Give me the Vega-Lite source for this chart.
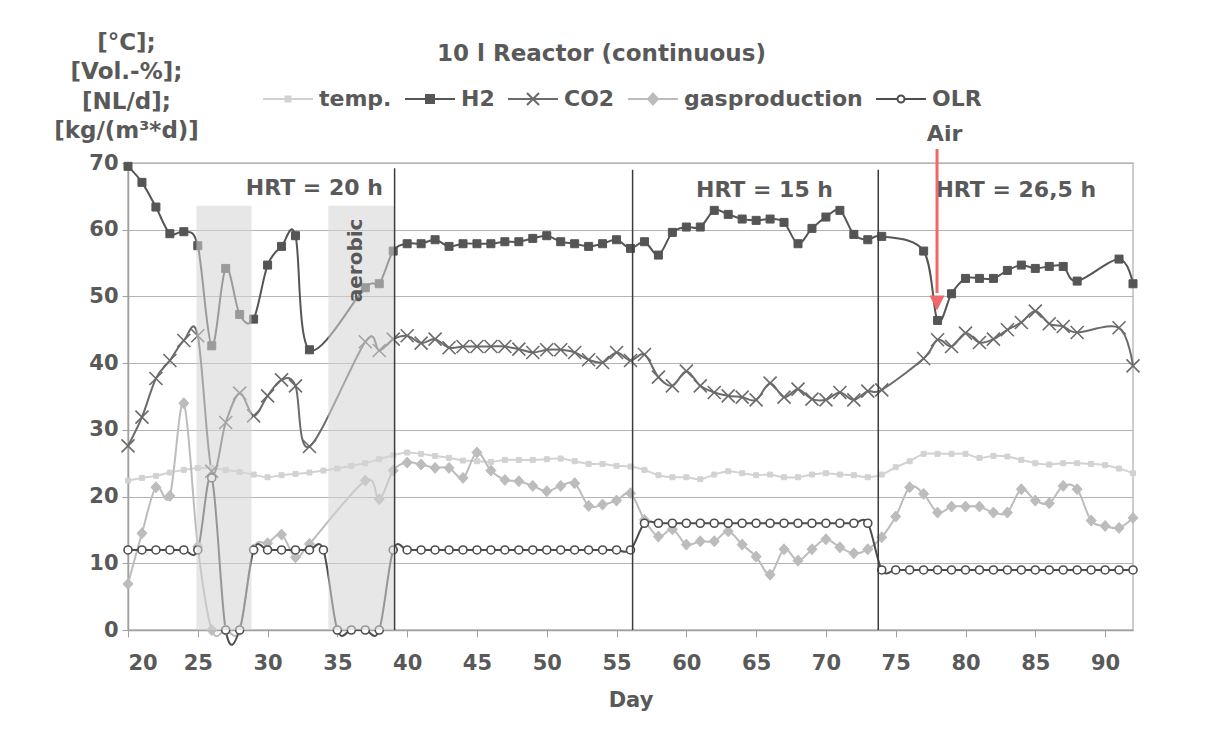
{
  "$schema": "https://vega.github.io/schema/vega-lite/v6.json",
  "width": 1005,
  "height": 467,
  "autosize": "none",
  "padding": {"left": 128, "top": 163, "right": 77, "bottom": 119},
  "background": "white",
  "title": {"text": "10 l Reactor (continuous)", "anchor": "middle", "frame": "group", "dx": -29, "offset": 0, "dy": 35, "fontSize": 23, "fontWeight": "bold", "color": "#595959", "font": "DejaVu Sans"},
  "config": {
    "font": "DejaVu Sans",
    "view": {"stroke": "#bdbdbd", "strokeWidth": 1.5},
    "axis": {"labelFontSize": 21, "labelFontWeight": "bold", "labelColor": "#595959", "titleFontSize": 21, "titleFontWeight": "bold", "titleColor": "#595959", "domainColor": "#a0a0a0", "tickColor": "#a0a0a0", "domainWidth": 1.5, "gridColor": "#b4b4b4"}
  },
  "datasets": {
    "meas": [
      {"day":20,"series":"temp.","value":22.4},{"day":21,"series":"temp.","value":22.8},{"day":22,"series":"temp.","value":23.1},{"day":23,"series":"temp.","value":23.6},{"day":24,"series":"temp.","value":24.0},{"day":25,"series":"temp.","value":24.3},{"day":26,"series":"temp.","value":24.3},{"day":27,"series":"temp.","value":24.0},{"day":28,"series":"temp.","value":23.7},{"day":29,"series":"temp.","value":23.3},{"day":30,"series":"temp.","value":22.9},{"day":31,"series":"temp.","value":23.2},{"day":32,"series":"temp.","value":23.4},{"day":33,"series":"temp.","value":23.6},{"day":34,"series":"temp.","value":23.9},{"day":35,"series":"temp.","value":24.2},{"day":36,"series":"temp.","value":24.6},{"day":37,"series":"temp.","value":25.0},{"day":38,"series":"temp.","value":25.6},{"day":39,"series":"temp.","value":26.2},{"day":40,"series":"temp.","value":26.6},{"day":41,"series":"temp.","value":26.4},{"day":42,"series":"temp.","value":26.1},{"day":43,"series":"temp.","value":25.8},{"day":44,"series":"temp.","value":25.4},{"day":45,"series":"temp.","value":25.3},{"day":46,"series":"temp.","value":25.2},{"day":47,"series":"temp.","value":25.5},{"day":48,"series":"temp.","value":25.5},{"day":49,"series":"temp.","value":25.5},{"day":50,"series":"temp.","value":25.6},{"day":51,"series":"temp.","value":25.7},{"day":52,"series":"temp.","value":25.3},{"day":53,"series":"temp.","value":24.9},{"day":54,"series":"temp.","value":24.9},{"day":55,"series":"temp.","value":24.6},{"day":56,"series":"temp.","value":24.5},{"day":57,"series":"temp.","value":24.0},{"day":58,"series":"temp.","value":23.2},{"day":59,"series":"temp.","value":22.9},{"day":60,"series":"temp.","value":22.9},{"day":61,"series":"temp.","value":22.6},{"day":62,"series":"temp.","value":23.3},{"day":63,"series":"temp.","value":23.8},{"day":64,"series":"temp.","value":23.5},{"day":65,"series":"temp.","value":23.2},{"day":66,"series":"temp.","value":23.3},{"day":67,"series":"temp.","value":22.9},{"day":68,"series":"temp.","value":22.9},{"day":69,"series":"temp.","value":23.3},{"day":70,"series":"temp.","value":23.5},{"day":71,"series":"temp.","value":23.3},{"day":72,"series":"temp.","value":23.2},{"day":73,"series":"temp.","value":22.9},{"day":74,"series":"temp.","value":23.3},{"day":75,"series":"temp.","value":24.4},{"day":76,"series":"temp.","value":25.3},{"day":77,"series":"temp.","value":26.4},{"day":78,"series":"temp.","value":26.4},{"day":79,"series":"temp.","value":26.4},{"day":80,"series":"temp.","value":26.4},{"day":81,"series":"temp.","value":25.8},{"day":82,"series":"temp.","value":26.1},{"day":83,"series":"temp.","value":26.0},{"day":84,"series":"temp.","value":25.5},{"day":85,"series":"temp.","value":25.0},{"day":86,"series":"temp.","value":24.8},{"day":87,"series":"temp.","value":25.0},{"day":88,"series":"temp.","value":25.0},{"day":89,"series":"temp.","value":24.9},{"day":90,"series":"temp.","value":24.7},{"day":91,"series":"temp.","value":24.2},{"day":92,"series":"temp.","value":23.5},

      {"day":20,"series":"gasproduction","value":6.9},{"day":21,"series":"gasproduction","value":14.5},{"day":22,"series":"gasproduction","value":21.4},{"day":23,"series":"gasproduction","value":20.1},{"day":24,"series":"gasproduction","value":34.0},{"day":25,"series":"gasproduction","value":12.5},{"day":26,"series":"gasproduction","value":0},{"day":27,"series":"gasproduction","value":0},{"day":28,"series":"gasproduction","value":0},{"day":29,"series":"gasproduction","value":12.1},{"day":30,"series":"gasproduction","value":13.0},{"day":31,"series":"gasproduction","value":14.3},{"day":32,"series":"gasproduction","value":10.9},{"day":33,"series":"gasproduction","value":12.9},{"day":37,"series":"gasproduction","value":22.4},{"day":38,"series":"gasproduction","value":19.6},{"day":39,"series":"gasproduction","value":23.9},{"day":40,"series":"gasproduction","value":25.1},{"day":41,"series":"gasproduction","value":24.8},{"day":42,"series":"gasproduction","value":24.3},{"day":43,"series":"gasproduction","value":24.3},{"day":44,"series":"gasproduction","value":22.8},{"day":45,"series":"gasproduction","value":26.6},{"day":46,"series":"gasproduction","value":23.9},{"day":47,"series":"gasproduction","value":22.5},{"day":48,"series":"gasproduction","value":22.3},{"day":49,"series":"gasproduction","value":21.6},{"day":50,"series":"gasproduction","value":20.8},{"day":51,"series":"gasproduction","value":21.6},{"day":52,"series":"gasproduction","value":22.0},{"day":53,"series":"gasproduction","value":18.6},{"day":54,"series":"gasproduction","value":18.8},{"day":55,"series":"gasproduction","value":19.4},{"day":56,"series":"gasproduction","value":20.5},{"day":57,"series":"gasproduction","value":16.5},{"day":58,"series":"gasproduction","value":14.0},{"day":59,"series":"gasproduction","value":15.1},{"day":60,"series":"gasproduction","value":12.8},{"day":61,"series":"gasproduction","value":13.3},{"day":62,"series":"gasproduction","value":13.3},{"day":63,"series":"gasproduction","value":14.8},{"day":64,"series":"gasproduction","value":12.8},{"day":65,"series":"gasproduction","value":11.0},{"day":66,"series":"gasproduction","value":8.3},{"day":67,"series":"gasproduction","value":12.1},{"day":68,"series":"gasproduction","value":10.4},{"day":69,"series":"gasproduction","value":12.1},{"day":70,"series":"gasproduction","value":13.6},{"day":71,"series":"gasproduction","value":12.4},{"day":72,"series":"gasproduction","value":11.5},{"day":73,"series":"gasproduction","value":12.1},{"day":74,"series":"gasproduction","value":13.9},{"day":75,"series":"gasproduction","value":17.0},{"day":76,"series":"gasproduction","value":21.4},{"day":77,"series":"gasproduction","value":20.4},{"day":78,"series":"gasproduction","value":17.6},{"day":79,"series":"gasproduction","value":18.5},{"day":80,"series":"gasproduction","value":18.5},{"day":81,"series":"gasproduction","value":18.5},{"day":82,"series":"gasproduction","value":17.6},{"day":83,"series":"gasproduction","value":17.6},{"day":84,"series":"gasproduction","value":21.1},{"day":85,"series":"gasproduction","value":19.4},{"day":86,"series":"gasproduction","value":19.0},{"day":87,"series":"gasproduction","value":21.6},{"day":88,"series":"gasproduction","value":21.1},{"day":89,"series":"gasproduction","value":16.4},{"day":90,"series":"gasproduction","value":15.6},{"day":91,"series":"gasproduction","value":15.3},{"day":92,"series":"gasproduction","value":16.8},

      {"day":20,"series":"CO2","value":27.6},{"day":21,"series":"CO2","value":31.9},{"day":22,"series":"CO2","value":37.7},{"day":23,"series":"CO2","value":40.4},{"day":24,"series":"CO2","value":43.4},{"day":25,"series":"CO2","value":44.1},{"day":26,"series":"CO2","value":23.8},{"day":27,"series":"CO2","value":31.1},{"day":28,"series":"CO2","value":35.5},{"day":29,"series":"CO2","value":32.1},{"day":30,"series":"CO2","value":35.1},{"day":31,"series":"CO2","value":37.5},{"day":32,"series":"CO2","value":36.6},{"day":33,"series":"CO2","value":27.5},{"day":37,"series":"CO2","value":43.2},{"day":38,"series":"CO2","value":41.9},{"day":39,"series":"CO2","value":43.6},{"day":40,"series":"CO2","value":44.1},{"day":41,"series":"CO2","value":43.0},{"day":42,"series":"CO2","value":43.6},{"day":43,"series":"CO2","value":42.3},{"day":44,"series":"CO2","value":42.5},{"day":45,"series":"CO2","value":42.5},{"day":46,"series":"CO2","value":42.5},{"day":47,"series":"CO2","value":42.5},{"day":48,"series":"CO2","value":42.1},{"day":49,"series":"CO2","value":41.6},{"day":50,"series":"CO2","value":42.0},{"day":51,"series":"CO2","value":42.0},{"day":52,"series":"CO2","value":41.6},{"day":53,"series":"CO2","value":40.5},{"day":54,"series":"CO2","value":40.1},{"day":55,"series":"CO2","value":41.6},{"day":56,"series":"CO2","value":40.4},{"day":57,"series":"CO2","value":41.3},{"day":58,"series":"CO2","value":37.9},{"day":59,"series":"CO2","value":36.6},{"day":60,"series":"CO2","value":38.8},{"day":61,"series":"CO2","value":36.6},{"day":62,"series":"CO2","value":35.6},{"day":63,"series":"CO2","value":35.1},{"day":64,"series":"CO2","value":34.9},{"day":65,"series":"CO2","value":34.5},{"day":66,"series":"CO2","value":37.0},{"day":67,"series":"CO2","value":34.9},{"day":68,"series":"CO2","value":36.1},{"day":69,"series":"CO2","value":34.6},{"day":70,"series":"CO2","value":34.5},{"day":71,"series":"CO2","value":35.6},{"day":72,"series":"CO2","value":34.5},{"day":73,"series":"CO2","value":35.8},{"day":74,"series":"CO2","value":36.0},{"day":77,"series":"CO2","value":40.7},{"day":78,"series":"CO2","value":43.5},{"day":79,"series":"CO2","value":42.5},{"day":80,"series":"CO2","value":44.5},{"day":81,"series":"CO2","value":43.1},{"day":82,"series":"CO2","value":43.6},{"day":83,"series":"CO2","value":45.0},{"day":84,"series":"CO2","value":46.1},{"day":85,"series":"CO2","value":47.8},{"day":86,"series":"CO2","value":45.9},{"day":87,"series":"CO2","value":45.5},{"day":88,"series":"CO2","value":44.6},{"day":91,"series":"CO2","value":45.3},{"day":92,"series":"CO2","value":39.6},

      {"day":20,"series":"H2","value":69.5},{"day":21,"series":"H2","value":67.1},{"day":22,"series":"H2","value":63.4},{"day":23,"series":"H2","value":59.4},{"day":24,"series":"H2","value":59.7},{"day":25,"series":"H2","value":57.6},{"day":26,"series":"H2","value":42.6},{"day":27,"series":"H2","value":54.2},{"day":28,"series":"H2","value":47.3},{"day":29,"series":"H2","value":46.6},{"day":30,"series":"H2","value":54.7},{"day":31,"series":"H2","value":57.5},{"day":32,"series":"H2","value":59.1},{"day":33,"series":"H2","value":42.0},{"day":37,"series":"H2","value":51.3},{"day":38,"series":"H2","value":51.9},{"day":39,"series":"H2","value":56.8},{"day":40,"series":"H2","value":57.9},{"day":41,"series":"H2","value":57.9},{"day":42,"series":"H2","value":58.5},{"day":43,"series":"H2","value":57.5},{"day":44,"series":"H2","value":57.9},{"day":45,"series":"H2","value":57.9},{"day":46,"series":"H2","value":57.9},{"day":47,"series":"H2","value":58.2},{"day":48,"series":"H2","value":58.2},{"day":49,"series":"H2","value":58.7},{"day":50,"series":"H2","value":59.1},{"day":51,"series":"H2","value":58.2},{"day":52,"series":"H2","value":57.9},{"day":53,"series":"H2","value":57.5},{"day":54,"series":"H2","value":57.9},{"day":55,"series":"H2","value":58.5},{"day":56,"series":"H2","value":57.2},{"day":57,"series":"H2","value":58.2},{"day":58,"series":"H2","value":56.2},{"day":59,"series":"H2","value":59.6},{"day":60,"series":"H2","value":60.4},{"day":61,"series":"H2","value":60.4},{"day":62,"series":"H2","value":62.9},{"day":63,"series":"H2","value":62.3},{"day":64,"series":"H2","value":61.6},{"day":65,"series":"H2","value":61.4},{"day":66,"series":"H2","value":61.6},{"day":67,"series":"H2","value":61.1},{"day":68,"series":"H2","value":57.9},{"day":69,"series":"H2","value":60.2},{"day":70,"series":"H2","value":61.9},{"day":71,"series":"H2","value":62.9},{"day":72,"series":"H2","value":59.3},{"day":73,"series":"H2","value":58.5},{"day":74,"series":"H2","value":59.0},{"day":77,"series":"H2","value":56.8},{"day":78,"series":"H2","value":46.4},{"day":79,"series":"H2","value":50.4},{"day":80,"series":"H2","value":52.7},{"day":81,"series":"H2","value":52.7},{"day":82,"series":"H2","value":52.7},{"day":83,"series":"H2","value":53.9},{"day":84,"series":"H2","value":54.7},{"day":85,"series":"H2","value":54.2},{"day":86,"series":"H2","value":54.5},{"day":87,"series":"H2","value":54.5},{"day":88,"series":"H2","value":52.3},{"day":91,"series":"H2","value":55.6},{"day":92,"series":"H2","value":51.9},

      {"day":20,"series":"OLR","value":12},{"day":21,"series":"OLR","value":12},{"day":22,"series":"OLR","value":12},{"day":23,"series":"OLR","value":12},{"day":24,"series":"OLR","value":12},{"day":25,"series":"OLR","value":12},{"day":26,"series":"OLR","value":22.8},{"day":27,"series":"OLR","value":0},{"day":28,"series":"OLR","value":0},{"day":29,"series":"OLR","value":12},{"day":30,"series":"OLR","value":12},{"day":31,"series":"OLR","value":12},{"day":32,"series":"OLR","value":12},{"day":33,"series":"OLR","value":12},{"day":34,"series":"OLR","value":12},{"day":35,"series":"OLR","value":0},{"day":36,"series":"OLR","value":0},{"day":37,"series":"OLR","value":0},{"day":38,"series":"OLR","value":0},{"day":39,"series":"OLR","value":12},{"day":40,"series":"OLR","value":12},{"day":41,"series":"OLR","value":12},{"day":42,"series":"OLR","value":12},{"day":43,"series":"OLR","value":12},{"day":44,"series":"OLR","value":12},{"day":45,"series":"OLR","value":12},{"day":46,"series":"OLR","value":12},{"day":47,"series":"OLR","value":12},{"day":48,"series":"OLR","value":12},{"day":49,"series":"OLR","value":12},{"day":50,"series":"OLR","value":12},{"day":51,"series":"OLR","value":12},{"day":52,"series":"OLR","value":12},{"day":53,"series":"OLR","value":12},{"day":54,"series":"OLR","value":12},{"day":55,"series":"OLR","value":12},{"day":56,"series":"OLR","value":12},{"day":57,"series":"OLR","value":16},{"day":58,"series":"OLR","value":16},{"day":59,"series":"OLR","value":16},{"day":60,"series":"OLR","value":16},{"day":61,"series":"OLR","value":16},{"day":62,"series":"OLR","value":16},{"day":63,"series":"OLR","value":16},{"day":64,"series":"OLR","value":16},{"day":65,"series":"OLR","value":16},{"day":66,"series":"OLR","value":16},{"day":67,"series":"OLR","value":16},{"day":68,"series":"OLR","value":16},{"day":69,"series":"OLR","value":16},{"day":70,"series":"OLR","value":16},{"day":71,"series":"OLR","value":16},{"day":72,"series":"OLR","value":16},{"day":73,"series":"OLR","value":16},{"day":74,"series":"OLR","value":9},{"day":75,"series":"OLR","value":9},{"day":76,"series":"OLR","value":9},{"day":77,"series":"OLR","value":9},{"day":78,"series":"OLR","value":9},{"day":79,"series":"OLR","value":9},{"day":80,"series":"OLR","value":9},{"day":81,"series":"OLR","value":9},{"day":82,"series":"OLR","value":9},{"day":83,"series":"OLR","value":9},{"day":84,"series":"OLR","value":9},{"day":85,"series":"OLR","value":9},{"day":86,"series":"OLR","value":9},{"day":87,"series":"OLR","value":9},{"day":88,"series":"OLR","value":9},{"day":89,"series":"OLR","value":9},{"day":90,"series":"OLR","value":9},{"day":91,"series":"OLR","value":9},{"day":92,"series":"OLR","value":9}
    ],
    "shade": [{"start": 24.9, "end": 28.85, "low": 0, "high": 63.6}, {"start": 34.35, "end": 39.1, "low": 0, "high": 63.6}],
    "phases": [{"day": 39.1, "low": 0, "high": 69.2}, {"day": 56.15, "low": 0, "high": 69.0}, {"day": 73.75, "low": 0, "high": 69.0}],
    "notes": [{"day": 33.35, "value": 66.3, "label": "HRT = 20 h"}, {"day": 65.6, "value": 65.9, "label": "HRT = 15 h"}, {"day": 83.6, "value": 65.9, "label": "HRT = 26,5 h"}, {"day": 78.5, "value": 74.4, "label": "Air"}],
    "aerobic": [{"day": 36.3, "value": 55.4, "label": "aerobic"}],
    "arrow": [{"day": 77.96, "top": 72.1, "bottom": 50.5, "head": 49.0}]
  },
  "layer": [
    {
      "data": {"name": "meas"},
      "mark": {"type": "line", "interpolate": "cardinal", "strokeWidth": 2},
      "encoding": {
        "x": {"field": "day", "type": "quantitative", "scale": {"domain": [20, 92], "nice": false, "zero": false},
              "axis": {"title": "Day", "values": [20,25,30,35,40,45,50,55,60,65,70,75,80,85,90], "grid": false, "tickSize": 7, "labelPadding": 15, "titlePadding": 16}},
        "y": {"field": "value", "type": "quantitative", "scale": {"domain": [0, 70], "nice": false},
              "axis": {"values": [0,10,20,30,40,50,60,70], "grid": true, "tickSize": 6, "labelPadding": 4,
                       "title": ["[°C];", "[Vol.-%];", "[NL/d];", "[kg/(m³*d)]"], "titleAngle": 0, "titleAlign": "center", "titleBaseline": "top", "titleX": -2, "titleY": -132, "titleLineHeight": 29.5, "titleFontSize": 23}},
        "color": {"field": "series", "type": "nominal",
                  "scale": {"domain": ["temp.", "H2", "CO2", "gasproduction", "OLR"], "range": ["#d2d2d2", "#555555", "#6b6b6b", "#bcbcbc", "#4d4d4d"]},
                  "legend": {"orient": "none", "legendX": 134, "legendY": -90, "direction": "horizontal", "title": null,
                             "symbolSize": 2500, "symbolStrokeWidth": 2, "labelFontSize": 22, "labelFontWeight": "bold", "labelColor": "#595959", "labelFont": "DejaVu Sans", "labelOffset": 5, "columnPadding": 9, "labelLimit": 400,
                             "encode": {"symbols": {"update": {
                               "shape": {"signal": "datum.value==='temp.' ? 'M-1,0H1M-0.1,-0.1H0.1V0.1H-0.1Z' : datum.value==='H2' ? 'M-1,0H1M-0.16,-0.16H0.16V0.16H-0.16Z' : datum.value==='CO2' ? 'M-1,0H1M-0.24,-0.24L0.24,0.24M-0.24,0.24L0.24,-0.24' : datum.value==='gasproduction' ? 'M-1,0H1M0,-0.22L0.2,0L0,0.22L-0.2,0Z' : 'M-1,0H-0.14M0.14,0H1M0.14,0A0.14,0.14 0 1,1 -0.14,0A0.14,0.14 0 1,1 0.14,0Z'"},
                               "fill": {"signal": "datum.value==='temp.' ? '#d2d2d2' : datum.value==='H2' ? '#555555' : datum.value==='CO2' ? 'transparent' : datum.value==='gasproduction' ? '#bcbcbc' : '#ffffff'"},
                               "stroke": {"signal": "datum.value==='temp.' ? '#d2d2d2' : datum.value==='H2' ? '#555555' : datum.value==='CO2' ? '#6b6b6b' : datum.value==='gasproduction' ? '#bcbcbc' : '#4d4d4d'"}
                             }}}}}
      }
    },
    {
      "data": {"name": "meas"},
      "transform": [{"filter": "datum.series === 'temp.'"}],
      "mark": {"type": "point", "shape": "M-0.5,-0.5H0.5V0.5H-0.5Z", "size": 100, "strokeWidth": 1, "fill": "#d2d2d2", "stroke": "#d2d2d2", "opacity": 1},
      "encoding": {"x": {"field": "day", "type": "quantitative"}, "y": {"field": "value", "type": "quantitative"}}
    },
    {
      "data": {"name": "meas"},
      "transform": [{"filter": "datum.series === 'gasproduction'"}],
      "mark": {"type": "point", "shape": "M0,-1.1L1,0L0,1.1L-1,0Z", "size": 100, "strokeWidth": 1, "fill": "#bcbcbc", "stroke": "#bcbcbc", "opacity": 1},
      "encoding": {"x": {"field": "day", "type": "quantitative"}, "y": {"field": "value", "type": "quantitative"}}
    },
    {
      "data": {"name": "meas"},
      "transform": [{"filter": "datum.series === 'CO2'"}],
      "mark": {"type": "point", "shape": "M-1.3,-1.3L1.3,1.3M-1.3,1.3L1.3,-1.3", "size": 100, "strokeWidth": 1.6, "fill": "transparent", "stroke": "#6b6b6b", "opacity": 1},
      "encoding": {"x": {"field": "day", "type": "quantitative"}, "y": {"field": "value", "type": "quantitative"}}
    },
    {
      "data": {"name": "meas"},
      "transform": [{"filter": "datum.series === 'H2'"}],
      "mark": {"type": "point", "shape": "M-0.8,-0.8H0.8V0.8H-0.8Z", "size": 100, "strokeWidth": 1, "fill": "#555555", "stroke": "#555555", "opacity": 1},
      "encoding": {"x": {"field": "day", "type": "quantitative"}, "y": {"field": "value", "type": "quantitative"}}
    },
    {
      "data": {"name": "meas"},
      "transform": [{"filter": "datum.series === 'OLR'"}],
      "mark": {"type": "point", "shape": "M0.8,0A0.8,0.8 0 1,1 -0.8,0A0.8,0.8 0 1,1 0.8,0Z", "size": 100, "strokeWidth": 1.6, "fill": "#ffffff", "stroke": "#4d4d4d", "opacity": 1},
      "encoding": {"x": {"field": "day", "type": "quantitative"}, "y": {"field": "value", "type": "quantitative"}}
    },
    {
      "data": {"name": "shade"},
      "mark": {"type": "rect", "fill": "#d4d4d4", "opacity": 0.55},
      "encoding": {
        "x": {"field": "start", "type": "quantitative"},
        "x2": {"field": "end"},
        "y": {"field": "low", "type": "quantitative"},
        "y2": {"field": "high"}
      }
    },
    {
      "data": {"name": "phases"},
      "mark": {"type": "rule", "color": "#3c3c3c", "strokeWidth": 1.5},
      "encoding": {
        "x": {"field": "day", "type": "quantitative"},
        "y": {"field": "low", "type": "quantitative"},
        "y2": {"field": "high"}
      }
    },
    {
      "data": {"name": "notes"},
      "mark": {"type": "text", "fontSize": 22, "fontWeight": "bold", "color": "#595959", "align": "center", "baseline": "middle"},
      "encoding": {
        "x": {"field": "day", "type": "quantitative"},
        "y": {"field": "value", "type": "quantitative"},
        "text": {"field": "label"}
      }
    },
    {
      "data": {"name": "aerobic"},
      "mark": {"type": "text", "fontSize": 20, "fontWeight": "bold", "color": "#595959", "align": "center", "baseline": "middle", "angle": 270},
      "encoding": {
        "x": {"field": "day", "type": "quantitative"},
        "y": {"field": "value", "type": "quantitative"},
        "text": {"field": "label"}
      }
    },
    {
      "data": {"name": "arrow"},
      "mark": {"type": "rule", "color": "#f06868", "strokeWidth": 3},
      "encoding": {
        "x": {"field": "day", "type": "quantitative"},
        "y": {"field": "top", "type": "quantitative"},
        "y2": {"field": "bottom"}
      }
    },
    {
      "data": {"name": "arrow"},
      "mark": {"type": "point", "shape": "M-1,-1L1,-1L0,1Z", "size": 225, "filled": true, "color": "#f06868", "opacity": 1},
      "encoding": {
        "x": {"field": "day", "type": "quantitative"},
        "y": {"field": "head", "type": "quantitative"}
      }
    }
  ]
}
